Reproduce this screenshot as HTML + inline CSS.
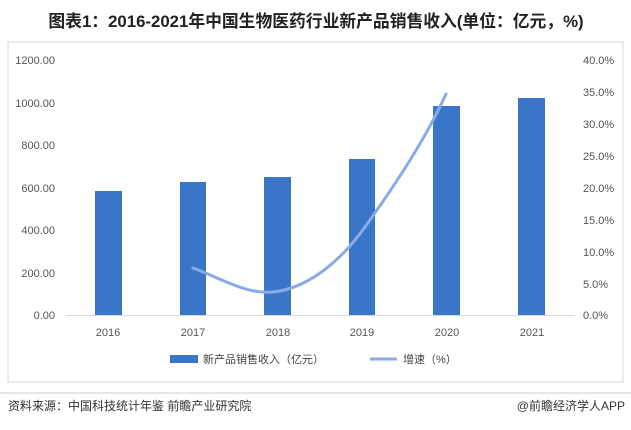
<!DOCTYPE html>
<html><head><meta charset="utf-8"><style>
body{margin:0;background:#fff;font-family:"Liberation Sans","Noto Sans CJK SC",sans-serif;}
</style></head><body>
<svg width="631" height="425" viewBox="0 0 631 425" xmlns="http://www.w3.org/2000/svg" font-family="Liberation Sans, Noto Sans CJK SC, sans-serif">
<rect width="631" height="425" fill="#fff"/>
<text x="316" y="27" text-anchor="middle" font-size="16.8" font-weight="bold" fill="#222">图表1：2016-2021年中国生物医药行业新产品销售收入(单位：亿元，%)</text>
<rect x="8" y="42" width="615" height="340" fill="none" stroke="#d9d9d9"/>
<g font-size="11" fill="#555">
<text x="55" y="64" text-anchor="end">1200.00</text>
<text x="55" y="107" text-anchor="end">1000.00</text>
<text x="55" y="149" text-anchor="end">800.00</text>
<text x="55" y="192" text-anchor="end">600.00</text>
<text x="55" y="234" text-anchor="end">400.00</text>
<text x="55" y="277" text-anchor="end">200.00</text>
<text x="55" y="319" text-anchor="end">0.00</text>
<text x="583" y="64">40.0%</text>
<text x="583" y="96">35.0%</text>
<text x="583" y="128">30.0%</text>
<text x="583" y="160">25.0%</text>
<text x="583" y="192">20.0%</text>
<text x="583" y="224">15.0%</text>
<text x="583" y="256">10.0%</text>
<text x="583" y="288">5.0%</text>
<text x="583" y="319">0.0%</text>
<text x="108" y="336" text-anchor="middle">2016</text>
<text x="193" y="336" text-anchor="middle">2017</text>
<text x="278" y="336" text-anchor="middle">2018</text>
<text x="362" y="336" text-anchor="middle">2019</text>
<text x="447" y="336" text-anchor="middle">2020</text>
<text x="532" y="336" text-anchor="middle">2021</text>
</g>
<g fill="#3a76c8">
<rect x="95" y="191" width="27" height="124"/>
<rect x="180" y="182" width="26" height="133"/>
<rect x="264" y="177" width="27" height="138"/>
<rect x="349" y="159" width="26" height="156"/>
<rect x="433" y="106" width="27" height="209"/>
<rect x="518" y="98" width="27" height="217"/>
</g>
<line x1="66" y1="315.5" x2="575" y2="315.5" stroke="#d9d9d9"/>
<path d="M193,268 C225,280 250,297 280,291 C310,285 340,262 365,227 C395,185 425,140 446,94" fill="none" stroke="#8aabe6" stroke-width="3" stroke-linecap="round"/>
<rect x="170" y="355" width="28" height="8" fill="#3a76c8"/>
<text x="203" y="363" font-size="11" fill="#444">新产品销售收入（亿元）</text>
<line x1="370" y1="359" x2="397" y2="359" stroke="#8aabe6" stroke-width="3"/>
<text x="403" y="363" font-size="11" fill="#444">增速（%）</text>
<line x1="0" y1="393" x2="631" y2="393" stroke="#ccc"/>
<text x="8" y="410" font-size="12" fill="#333">资料来源：中国科技统计年鉴 前瞻产业研究院</text>
<text x="625" y="410" font-size="12" fill="#333" text-anchor="end">@前瞻经济学人APP</text>
</svg>
</body></html>
